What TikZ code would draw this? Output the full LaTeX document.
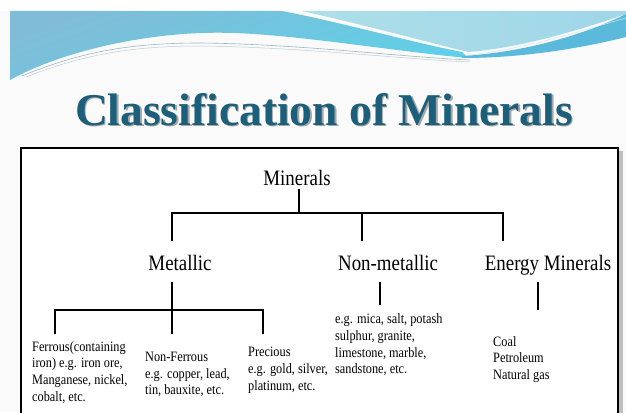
\documentclass[tikz,border=0pt]{standalone}
\usepackage{fontspec}
\setmainfont{Liberation Serif}
\newfontfamily\cond[FakeStretch=0.86]{Liberation Serif}
\newfontfamily\titlefont{Liberation Serif Bold}
\definecolor{titlec}{HTML}{1B5F7A}
\definecolor{waveA}{HTML}{80BCD7}
\definecolor{waveAb}{HTML}{5FD0E8}
\definecolor{waveL}{HTML}{AEDFE9}
\definecolor{waveLr}{HTML}{9FD6E8}
\definecolor{waveB}{HTML}{5BB9DC}
\definecolor{faint}{HTML}{9DB6C2}
\definecolor{pagebg}{HTML}{FAFAFA}
\tikzset{
  titletext/.style={font=\titlefont\fontsize{45.5}{50}\selectfont, inner sep=0pt, anchor=base},
  lbl/.style={font=\cond\fontsize{22}{26}\selectfont, inner sep=0pt, anchor=base},
  desc/.style={font=\cond\fontsize{14.3}{16.7}\selectfont, inner sep=0pt, anchor=north west, align=left},
  tree/.style={line width=1.8pt, black},
}
\begin{document}
\begin{tikzpicture}[x=1pt,y=-1pt]
\useasboundingbox (0,0) rectangle (626,412);
\fill[pagebg] (0,0) rectangle (626,412);
\fill[white] (0,0) rectangle (626,11);
% ---- header wave ----
\shade[top color=waveA, bottom color=waveAb, shading angle=20]
  (10,11) -- (282,11) .. controls (340,22) and (410,42) .. (462,52)
  -- (468,58) .. controls (400,52) and (300,35) .. (233,33)
  .. controls (150,30) and (60,52) .. (10,80) -- cycle;
\shade[left color=waveL, right color=waveLr]
  (302,11) -- (626,11) -- (626,14) .. controls (580,30) and (520,48) .. (468,52)
  .. controls (420,40) and (360,24) .. (302,11) -- cycle;
\fill[waveB]
  (462,56) .. controls (530,52) and (590,32) .. (626,14) -- (626,37)
  .. controls (590,46) and (530,58) .. (462,58) -- cycle;
\draw[white!70!waveB, line width=0.5pt] (470,55) .. controls (530,48) and (590,28) .. (626,18);
\draw[faint, line width=0.6pt] (22,76) .. controls (80,52) and (130,43) .. (200,43)
  .. controls (300,44) and (400,57) .. (470,60);
\draw[faint!70, line width=0.5pt] (26,77) .. controls (82,55) and (130,46) .. (200,46)
  .. controls (300,47) and (400,59) .. (470,62);
% ---- title ----
\node[titletext, text=black!35] (titleshadow) at (325.5,126.5) {Classification of Minerals};
\node[titletext, text=titlec] (title) at (324,125) {Classification of Minerals};
% ---- frame ----
\fill[black!25] (24,151) rectangle (623,430);
\fill[white] (21,148) rectangle (618,430);
\draw[line width=2.2pt, black] (21,148) rectangle (618,430);
% ---- labels ----
\node[lbl] (min) at (297,185) {Minerals};
\node[lbl] (met) at (180,270) {Metallic};
\node[lbl] (non) at (388,270) {Non-metallic};
\node[lbl] (ene) at (548,270) {Energy Minerals};
\node[desc] (fer) at (32,341) {Ferrous(containing\\iron) e.g. iron ore,\\Manganese, nickel,\\cobalt, etc.};
\node[desc] (nfe) at (145,352) {Non-Ferrous\\e.g. copper, lead,\\tin, bauxite, etc.};
\node[desc] (pre) at (248,347) {Precious\\e.g. gold, silver,\\platinum, etc.};
\node[desc] (nmx) at (335,313.5) {e.g. mica, salt, potash\\sulphur, granite,\\limestone, marble,\\sandstone, etc.};
\node[desc] (enx) at (493,336) {Coal\\Petroleum\\Natural gas};
% ---- tree coordinates ----
\coordinate (minB) at (299,189);
\coordinate (j0) at (299,213);
\coordinate (hL) at (172,213);
\coordinate (hM) at (362,213);
\coordinate (hR) at (503,213);
\coordinate (dL) at (172,241);
\coordinate (dM) at (362,241);
\coordinate (dR) at (503,241);
\coordinate (mt) at (172,282);
\coordinate (mL) at (55,310);
\coordinate (mR) at (263,310);
\coordinate (fL) at (55,334);
\coordinate (fM) at (172,334);
\coordinate (fR) at (263,334);
\coordinate (nt) at (380,282);
\coordinate (nb) at (380,305);
\coordinate (et) at (538,282);
\coordinate (eb) at (538,310);
% ---- connectors ----
\draw[tree] (minB) -- (j0);
\draw[tree] (dL) -- (hL) -- (hR) -- (dR);
\draw[tree] (hM) -- (dM);
\draw[tree] (mt) -- (fM);
\draw[tree] (fL) -- (mL) -- (mR) -- (fR);
\draw[tree] (nt) -- (nb);
\draw[tree] (et) -- (eb);
\end{tikzpicture}
\end{document}
